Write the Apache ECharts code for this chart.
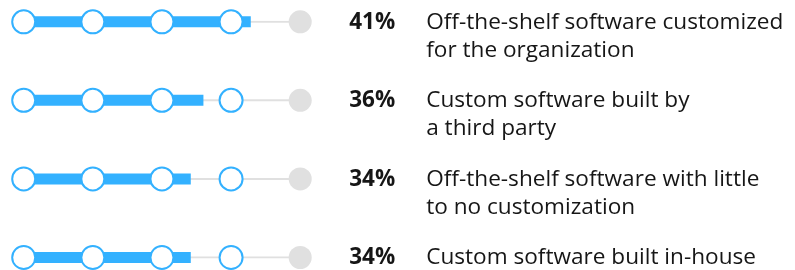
<!DOCTYPE html>
<html><head><meta charset="utf-8">
<script src="https://cdn.jsdelivr.net/npm/echarts@6/dist/echarts.min.js"></script>
<style>html,body{margin:0;padding:0;background:#fff}#c{width:795px;height:270px}</style>
</head><body><div id="c"></div>
<script>
// Rows (top to bottom)
const categories = [
  'Off-the-shelf software customized\nfor the organization',
  'Custom software built by\na third party',
  'Off-the-shelf software with little\nto no customization',
  'Custom software built in-house'
];
const percentLabels = ['41%', '36%', '34%', '34%'];
// Where the blue fill ends, in step units (0 = first marker, 4 = last)
const barFill = [3.285, 2.6, 2.417, 2.417];
const stepMarkers = [0, 1, 2, 3];
const endMarker = 4;

const BLUE = '#33b1ff', GRAY = '#e0e0e0', INK = '#161616';
const FONT = 'Open Sans';

const series = [];
categories.forEach((c, i) => {
  series.push({
    type: 'line', data: [[0, i], [endMarker, i]], symbol: 'none', silent: true,
    lineStyle: { color: GRAY, width: 2 }, z: 1
  });
});
series.push({
  type: 'bar', data: barFill, barWidth: 11, itemStyle: { color: BLUE }, z: 2, silent: true
});
const stepData = [];
categories.forEach((c, i) => stepMarkers.forEach(s => stepData.push([s, i])));
series.push({
  type: 'scatter', data: stepData, symbol: 'circle', symbolSize: 23,
  itemStyle: { color: '#fff', borderColor: BLUE, borderWidth: 2, opacity: 1 }, z: 3
});
series.push({
  type: 'scatter', data: categories.map((c, i) => [endMarker, i]), symbol: 'circle', symbolSize: 23,
  itemStyle: { color: GRAY, opacity: 1 }, z: 3
});
series.push({
  type: 'scatter', data: categories.map((c, i) => [endMarker, i]), symbolSize: 0, z: 4,
  itemStyle: { opacity: 1 },
  label: {
    show: true, position: [49, 0.5], align: 'left', verticalAlign: 'middle', opacity: 1,
    formatter: p => percentLabels[p.dataIndex],
    fontFamily: FONT, fontSize: 22.5, fontWeight: 'bold', color: INK
  }
});
series.push({
  type: 'scatter', data: categories.map((c, i) => [endMarker, i]), symbolSize: 0, z: 4,
  itemStyle: { opacity: 1 },
  label: {
    show: true, position: [126, -13.5], align: 'left', verticalAlign: 'top', opacity: 1,
    formatter: p => categories[p.dataIndex],
    fontFamily: FONT, fontSize: 22.6, lineHeight: 28, color: INK
  }
});

const chart = echarts.init(document.getElementById('c'), null, { renderer: 'canvas' });
chart.setOption({
  animation: false,
  grid: { left: 23.7, right: 494.8, top: 21.8, bottom: 12.5 },
  xAxis: { type: 'value', min: 0, max: endMarker, show: false },
  yAxis: { type: 'category', data: categories, inverse: true, boundaryGap: false, show: false },
  series
});
</script></body></html>
